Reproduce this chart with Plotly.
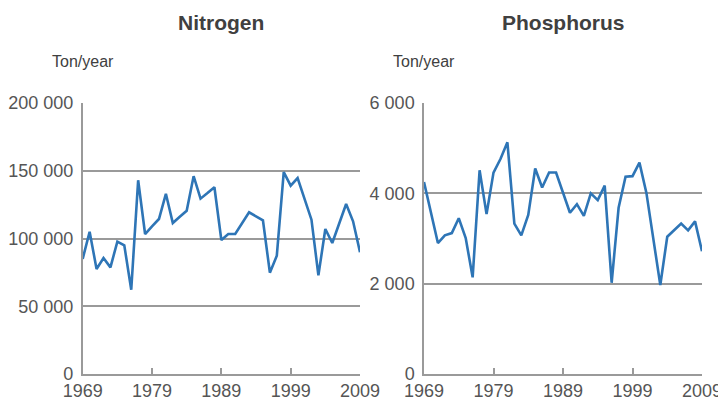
import plotly.graph_objects as go

years = list(range(1969, 2010))
nitrogen = [85000, 105000, 77500, 85600, 78700, 97700, 95000, 62200, 143000, 103300,
            109000, 114400, 133000, 111400, 116000, 120500, 146000, 129400, 133500, 137800,
            98900, 103300, 103300, 111400, 119300, 116400, 113400, 74800, 87300, 149000,
            139000, 144600, 129400, 113900, 72800, 107000, 96700, 111000, 125500, 112700, 89800]
phosphorus = [4250, 3580, 2900, 3070, 3120, 3450, 3010, 2140, 4510, 3540,
              4460, 4760, 5130, 3330, 3070, 3520, 4550, 4130, 4460, 4460,
              4000, 3570, 3760, 3500, 4000, 3850, 4170, 2020, 3680, 4370,
              4380, 4680, 4010, 2980, 1970, 3040, 3180, 3330, 3180, 3380, 2720]

x_ticks = [1969, 1979, 1989, 1999, 2009]
n_ticks = [0, 50000, 100000, 150000, 200000]
n_labels = ["0", "50 000", "100 000", "150 000", "200 000"]
p_ticks = [0, 2000, 4000, 6000]
p_labels = ["0", "2 000", "4 000", "6 000"]
titles = ["Nitrogen", "Phosphorus"]
unit = "Ton/year"

LINE = "#2e75b6"
GRID = "#9a9a9a"
TXT = "#555555"
FONT = "Liberation Sans, Arial, sans-serif"

fig = go.Figure()
fig.add_trace(go.Scatter(x=years, y=nitrogen, mode="lines", xaxis="x", yaxis="y",
                         line=dict(color=LINE, width=2.6), showlegend=False))
fig.add_trace(go.Scatter(x=years, y=phosphorus, mode="lines", xaxis="x2", yaxis="y2",
                         line=dict(color=LINE, width=2.6), showlegend=False))

# page body has an 8px margin; figure sized to fit the 726x404 window
OFF = 8
W, H = 726 - OFF, 404 - OFF


def px_x(v):
    return (v - OFF) / W


def px_y(v):
    return 1 - (v - OFF) / H


xd1 = [px_x(82.7), px_x(360)]
xd2 = [px_x(424), px_x(702)]
yd = [px_y(374), px_y(103)]

xcommon = dict(range=[1969, 2009], tickvals=x_ticks, ticktext=[str(v) for v in x_ticks],
               showgrid=False, zeroline=False, showline=True, linecolor=GRID, linewidth=1.5,
               ticks="inside", ticklen=6, tickcolor=GRID, tickwidth=1.5, automargin=False,
               tickfont=dict(family=FONT, size=18, color=TXT), fixedrange=True)
ycommon = dict(showgrid=True, gridcolor=GRID, gridwidth=1.5, zeroline=False,
               showline=True, linecolor=GRID, linewidth=1.5, ticks="", ticklabelstandoff=4,
               automargin=False,
               tickfont=dict(family=FONT, size=18, color=TXT), fixedrange=True)

fig.update_layout(
    width=W, height=H, margin=dict(l=0, r=0, t=0, b=0),
    paper_bgcolor="white", plot_bgcolor="white",
    xaxis=dict(domain=xd1, anchor="y", **xcommon),
    xaxis2=dict(domain=xd2, anchor="y2", **xcommon),
    yaxis=dict(domain=yd, anchor="x", range=[0, 200000], tickvals=n_ticks, ticktext=n_labels, **ycommon),
    yaxis2=dict(domain=yd, anchor="x2", range=[0, 6000], tickvals=p_ticks, ticktext=p_labels, **ycommon),
)

for xd, title in zip([xd1, xd2], titles):
    fig.add_annotation(x=(xd[0] + xd[1]) / 2, y=px_y(22), xref="paper", yref="paper",
                       text="<b>" + title + "</b>", showarrow=False, xanchor="center", yanchor="middle",
                       font=dict(family=FONT, size=21, color="#404040"))
    fig.add_annotation(x=xd[0], y=px_y(62), xref="paper", yref="paper",
                       text=unit, showarrow=False, xanchor="center", yanchor="middle",
                       font=dict(family=FONT, size=16, color="#404040"))

fig.write_html("out.html")
